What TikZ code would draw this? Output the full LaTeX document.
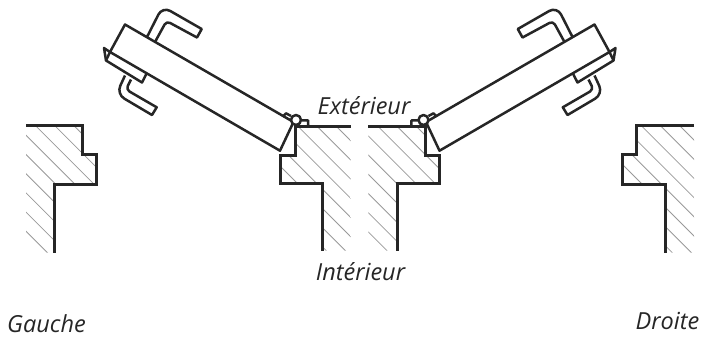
\documentclass[tikz,border=0pt]{standalone}
\usepackage{fontspec}
\setmainfont{Open Sans}
\tikzstyle{outline} = [line width=3pt,draw=black!85,line join=miter]
\tikzstyle{thinline} = [line width=2.5pt,draw=black!85,line join=round]
\tikzstyle{hatchline} = [line width=0.8pt,draw=black!40]
\tikzstyle{caption} = [font=\itshape\fontsize{23.5}{26}\selectfont,text=black!85,inner sep=0pt]

% #1 outline, #2 closing corner of the hatched area, #3 hatch offsets
\newcommand{\wall}[3]{
	\begin{scope}
		\clip #1 -- #2 -- cycle;
		\foreach \c in {#3} \draw[hatchline] (0,{\c}) -- (720,{720+\c});
	\end{scope}
	\draw[outline] #1;
}

\newcommand{\leaf}{
	\draw[thinline] (125,24.5) -- (293.5,122) -- (280,150.7) -- (110,52) -- cycle;
	\draw[thinline] (110,52) -- (104,48) -- (106,60.5) -- (142,82.5) -- (146.7,73.3);
	\draw[thinline] (106,60.5) -- (110,52);
	\draw[thinline] (147,37) [rounded corners=9pt] -- (162.5,6.5) [sharp corners] -- (201.7,29) -- (197,37.5) [rounded corners=4pt] -- (166.5,21) [sharp corners] -- (155,42);
	\draw[thinline] (125,75.5) [rounded corners=9pt] -- (116.5,94) [sharp corners] -- (152,115) -- (156.7,107.3) [rounded corners=4pt] -- (126,89.5) [sharp corners] -- (131,79.5);
	\draw[thinline] (282.7,116.7) -- (286,113.3) -- (291,116);
	\draw[thinline] (301.5,120.3) -- (308,120.3) -- (308.3,126);
	\draw[thinline,fill=white] (296,120) circle (5);
}

\begin{document}
\begin{tikzpicture}[x=1pt,y=-1pt]
	\useasboundingbox (0,0) rectangle (703,338);

	\wall{(26,125.7) -- (82.3,125.7) -- (82.3,154.3) -- (96.7,154.3) -- (96.7,184) -- (54.3,184) -- (54.3,252.7)}{(26,252.7)}
		{51.7,70.9,...,206}
	\wall{(350.7,126) -- (295,126) -- (295,155) -- (280,155) -- (280,183.3) -- (322,183.3) -- (322,250.7)}{(350.7,250.7)}
		{-210,-190.8,...,-70}
	\wall{(368.3,126) -- (425,126) -- (425,155) -- (439.3,155) -- (439.3,183.3) -- (397.3,183.3) -- (397.3,250.7)}{(368.3,250.7)}
		{-290,-270.8,...,-130}
	\wall{(694,125.7) -- (636.7,125.7) -- (636.7,154.3) -- (622.3,154.3) -- (622.3,184) -- (665,184) -- (665,252.7)}{(694,252.7)}
		{-554,-534.8,...,-410}

	\leaf
	\begin{scope}[xshift=719.5pt,xscale=-1]
		\leaf
	\end{scope}

	\node[caption] (outside) at (364,106) {Extérieur};
	\node[caption] (inside)  at (360.5,272) {Intérieur};
	\node[caption] (left)    at (46.5,324) {Gauche};
	\node[caption] (right)   at (667.5,321) {Droite};
\end{tikzpicture}
\end{document}
